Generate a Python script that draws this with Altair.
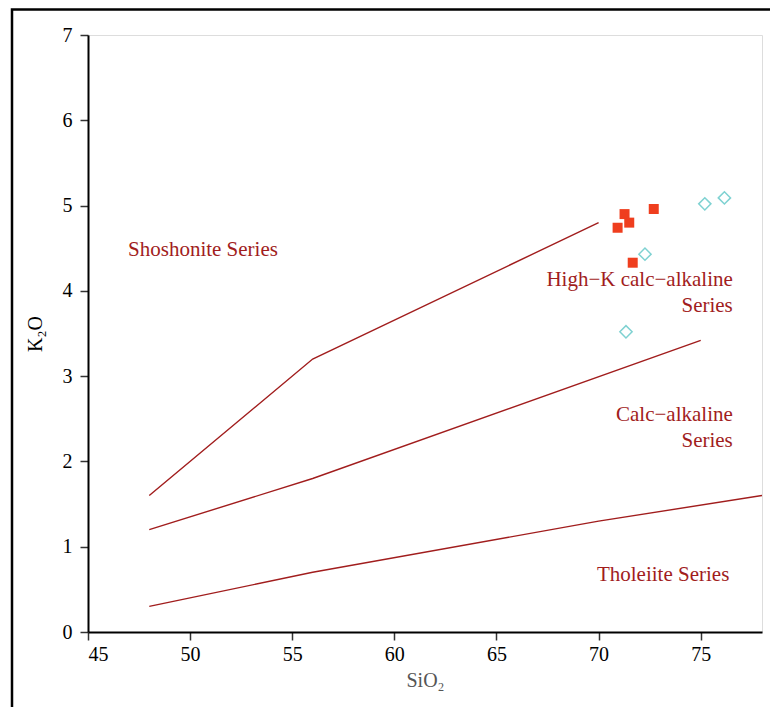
import altair as alt
import pandas as pd

# Boundary lines (Peccerillo & Taylor style)
line_ids = ["A", "A", "A", "B", "B", "B", "C", "C", "C", "C"]
line_x = [48, 56, 70, 48, 56, 75, 48, 56, 70, 78]
line_y = [1.6, 3.2, 4.8, 1.2, 1.8, 3.42, 0.3, 0.7, 1.3, 1.6]

# Samples
sq_x = [71.27, 71.5, 70.93, 72.7, 71.67]
sq_y = [4.90, 4.80, 4.74, 4.96, 4.33]
di_x = [75.2, 76.16, 72.27, 71.34]
di_y = [5.02, 5.09, 4.43, 3.52]

# Field labels
lab_text = ["Shoshonite Series", "High−K calc−alkaline\nSeries", "Calc−alkaline\nSeries", "Tholeiite Series"]
lab_x = [46.96, 76.57, 76.57, 76.4]
lab_y = [4.48, 4.13, 2.54, 0.67]
lab_align = ["left", "right", "right", "right"]

x_ticks = [45, 50, 55, 60, 65, 70, 75]
y_ticks = [0, 1, 2, 3, 4, 5, 6, 7]

FONT = "Liberation Serif"
RED = "#a11d1d"

xs = alt.Scale(domain=[45, 78], nice=False, zero=False)
ys = alt.Scale(domain=[0, 7], nice=False)

lines_df = pd.DataFrame({"id": line_ids, "x": line_x, "y": line_y})
sq_df = pd.DataFrame({"x": sq_x, "y": sq_y})
di_df = pd.DataFrame({"x": di_x, "y": di_y})
lab_df = pd.DataFrame({"t": lab_text, "x": lab_x, "y": lab_y, "a": lab_align})

xax = alt.Axis(values=x_ticks, format="d", title="SiO₂", grid=False, domainColor="black", domainWidth=2,
               tickColor="#333333", tickSize=8, tickWidth=1.5, labelPadding=4,
               labelFont=FONT, labelFontSize=20, labelColor="black",
               titleFont=FONT, titleFontSize=20, titleFontWeight="normal", titleColor="#555555",
               titlePadding=6)
yax = alt.Axis(values=y_ticks, format="d", title="K₂O", grid=False, domainColor="black", domainWidth=2,
               tickColor="#333333", tickSize=8, tickWidth=1.5, labelPadding=8,
               labelFont=FONT, labelFontSize=20, labelColor="black",
               titleFont=FONT, titleFontSize=20, titleFontWeight="normal", titleColor="black",
               titlePadding=17)

base_x = alt.X("x:Q", scale=xs, axis=xax)
base_y = alt.Y("y:Q", scale=ys, axis=yax)

lines = alt.Chart(lines_df).mark_line(color=RED, strokeWidth=1.4, clip=True).encode(
    x=base_x, y=base_y, detail="id:N")

squares = alt.Chart(sq_df).mark_point(shape="square", filled=True, size=100, color="#ef3e1e", opacity=1).encode(
    x="x:Q", y="y:Q")

diamonds = alt.Chart(di_df).mark_point(shape="diamond", filled=False, size=150, color="#7fd2d2",
                                       strokeWidth=1.5, opacity=1).encode(x="x:Q", y="y:Q")

labels = alt.Chart(lab_df[lab_df.a == "left"]).mark_text(
    font=FONT, fontSize=21, color=RED, align="left", baseline="middle").encode(
    x="x:Q", y="y:Q", text="t:N")
labels_r = alt.Chart(lab_df[lab_df.a == "right"]).mark_text(
    font=FONT, fontSize=21, color=RED, align="right", baseline="middle", lineBreak="\n", lineHeight=26).encode(
    x="x:Q", y="y:Q", text="t:N")

frame = alt.Chart(pd.DataFrame({"k": [0]})).mark_rect(
    fill=None, stroke="black", strokeWidth=2.5, clip=False).encode(
    x=alt.value(-76), x2=alt.value(760), y=alt.value(-25.5), y2=alt.value(760))

chart = alt.layer(lines, squares, diamonds, labels, labels_r, frame).properties(
    width=674, height=597,
    autosize=alt.AutoSizeParams(type="none"),
    padding={"left": 80, "top": 27, "right": 8, "bottom": 75},
).configure_view(stroke="black", strokeWidth=1.5).configure(background="white")

chart.save("out.html", embed_options={"renderer": "svg", "actions": False})
